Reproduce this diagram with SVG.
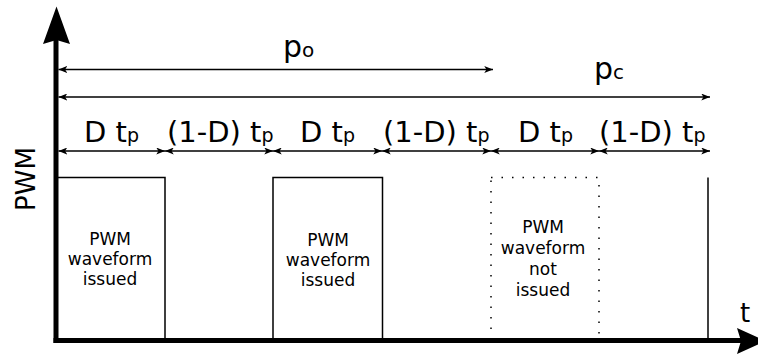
<svg xmlns="http://www.w3.org/2000/svg" width="758" height="354" viewBox="0 0 758 354">
<defs>
<marker id="ah" viewBox="0 0 10 8" refX="10" refY="4" markerWidth="9" markerHeight="7" markerUnits="userSpaceOnUse" orient="auto-start-reverse">
<path d="M0,0 L10,4 L0,8 L2.5,4 Z" fill="#000"/>
</marker>
</defs>
<style>
text{font-family:"DejaVu Sans","Liberation Sans",sans-serif;fill:#000}
.dim{stroke:#000;stroke-width:1.5;fill:none;marker-start:url(#ah);marker-end:url(#ah)}
.lbl{font-size:29px}
.sub{font-size:19px}
.box{stroke:#000;stroke-width:1.5;fill:none}
.in{font-size:17px;text-anchor:middle}
</style>
<rect width="758" height="354" fill="#fff"/>
<g id="axes">
<line x1="56" y1="343" x2="56" y2="38" stroke="#000" stroke-width="5"/>
<polygon points="56.5,6.5 70,44 56.5,40 43,44" fill="#000"/>
<line x1="53.5" y1="340.5" x2="742" y2="340.5" stroke="#000" stroke-width="5"/>
<polygon points="766,341 737,328 741,341 737,354" fill="#000"/>
<text transform="translate(35,179) rotate(-90)" font-size="26" text-anchor="middle">PWM</text>
<text x="740" y="322" font-size="26">t</text>
</g>
<g id="connectors">
<line class="dim" x1="58.5" y1="69.5" x2="493" y2="69.5"/>
<line class="dim" x1="58.5" y1="97" x2="710" y2="97"/>
<line class="dim" x1="58.5" y1="151" x2="165" y2="151"/>
<line class="dim" x1="165" y1="151" x2="273" y2="151"/>
<line class="dim" x1="273" y1="151" x2="382" y2="151"/>
<line class="dim" x1="382" y1="151" x2="491" y2="151"/>
<line class="dim" x1="491" y1="151" x2="599" y2="151"/>
<line class="dim" x1="599" y1="151" x2="710" y2="151"/>
</g>
<g id="labels">
<text x="283" y="57" font-size="30">p<tspan font-size="20">o</tspan></text>
<text x="594" y="79" font-size="30">p<tspan font-size="20">c</tspan></text>
<text class="lbl" x="84" y="142">D t<tspan class="sub">p</tspan></text>
<text class="lbl" x="167" y="142">(1-D) t<tspan class="sub">p</tspan></text>
<text class="lbl" x="300" y="142">D t<tspan class="sub">p</tspan></text>
<text class="lbl" x="383" y="142">(1-D) t<tspan class="sub">p</tspan></text>
<text class="lbl" x="518" y="142">D t<tspan class="sub">p</tspan></text>
<text class="lbl" x="599" y="142">(1-D) t<tspan class="sub">p</tspan></text>
</g>
<g id="pulse1">
<path class="box" d="M57,177.5 H165 V340"/>
<text class="in" x="110" y="245">PWM</text>
<text class="in" x="110" y="265">waveform</text>
<text class="in" x="110" y="285">issued</text>
</g>
<g id="pulse2">
<path class="box" d="M273,340 V177.5 H382.5 V340"/>
<text class="in" x="328" y="246">PWM</text>
<text class="in" x="328" y="266">waveform</text>
<text class="in" x="328" y="286">issued</text>
</g>
<g id="pulse3">
<rect x="491" y="177.5" width="108" height="162" fill="none" stroke="#000" stroke-width="1.5" stroke-dasharray="1.5 9"/>
<text class="in" x="543" y="233">PWM</text>
<text class="in" x="543" y="254">waveform</text>
<text class="in" x="543" y="275">not</text>
<text class="in" x="543" y="296">issued</text>
</g>
<g id="pulse4">
<line class="box" x1="708" y1="177.5" x2="708" y2="340"/>
</g>
</svg>
